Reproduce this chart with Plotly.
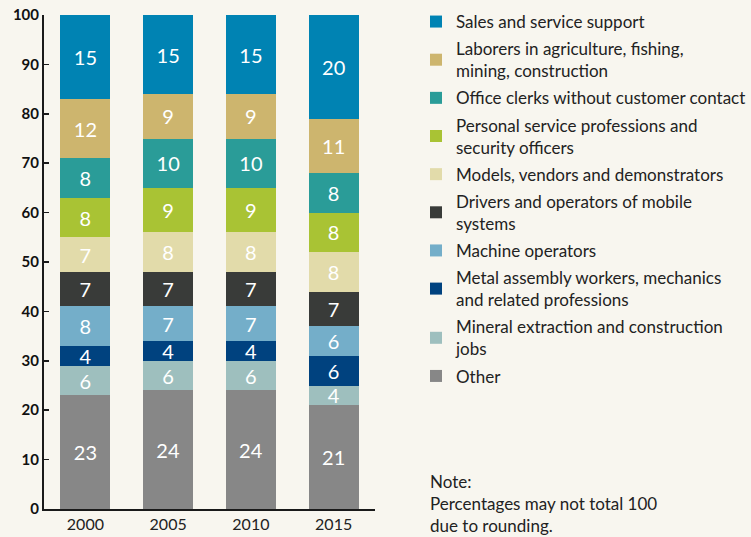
import plotly.graph_objects as go

years = ["2000", "2005", "2010", "2015"]

# values as labelled in the chart (bottom to top of the stack)
other = [23, 24, 24, 21]
mineral = [6, 6, 6, 4]
metal = [4, 4, 4, 6]
machine = [8, 7, 7, 6]
drivers = [7, 7, 7, 7]
models = [7, 8, 8, 8]
personal = [8, 9, 9, 8]
office = [8, 10, 10, 8]
laborers = [12, 9, 9, 11]
sales = [15, 15, 15, 20]

names = [
    "Other",
    "Mineral extraction and construction<br>jobs",
    "Metal assembly workers, mechanics<br>and related professions",
    "Machine operators",
    "Drivers and operators of mobile<br>systems",
    "Models, vendors and demonstrators",
    "Personal service professions and<br>security officers",
    "Office clerks without customer contact",
    "Laborers in agriculture, fishing,<br>mining, construction",
    "Sales and service support",
]
colors = ["#878787", "#9ebfbe", "#00427f", "#74aec9", "#393b39",
          "#e2dbaa", "#a9c334", "#2a9c98", "#cdb56e", "#0083b3"]

series = [other, mineral, metal, machine, drivers, models, personal, office, laborers, sales]

fig = go.Figure()
n = len(series)
for i, (name, vals, col) in enumerate(zip(names, series, colors)):
    if i == n - 1:
        # top segment fills up to 100 (percentages may not total 100 due to rounding)
        below = [sum(s[j] for s in series[:-1]) for j in range(len(years))]
        heights = [100 - b for b in below]
    else:
        heights = vals
    fig.add_trace(go.Bar(
        x=years, y=heights, name=name, legendgroup=f"g{i}", legendrank=n - i,
        text=[str(v) for v in vals],
        textposition="inside", insidetextanchor="middle",
        textangle=0, constraintext="none",
        textfont=dict(family="Lato", size=20, color="white"),
        marker=dict(color=col, line=dict(width=0)),
        hoverinfo="skip",
    ))

W, H = 751, 537
ml, mr, mt, mb = 44, 376, 15, 28
pw = W - ml - mr
ph = H - mt - mb

def px_x(p):
    return (p - ml) / pw

def px_y(p):
    return 1 - (p - mt) / ph

fig.update_layout(
    width=W, height=H,
    margin=dict(l=ml, r=mr, t=mt, b=mb, autoexpand=False),
    barmode="stack", bargap=0.396,
    paper_bgcolor="#f8f6ef", plot_bgcolor="#f8f6ef",
    font=dict(family="Lato", color="#222222"),
    showlegend=True,
    legend=dict(
        x=px_x(416), y=px_y(4), xanchor="left", yanchor="top",
        traceorder="grouped", tracegroupgap=2, maxheight=600,
        font=dict(family="Lato", size=17, color="#222222"),
        bgcolor="rgba(0,0,0,0)", borderwidth=0, itemclick=False, itemdoubleclick=False,
    ),
    xaxis=dict(
        type="category", range=[-0.5, 3.5], showline=True, linecolor="#1a1a1a",
        linewidth=2, ticks="", showgrid=False, zeroline=False,
        tickfont=dict(family="Lato", size=16, color="#222222"),
    ),
    yaxis=dict(
        range=[0, 100], tick0=0, dtick=10, showline=True, linecolor="#1a1a1a",
        linewidth=2, ticks="inside", ticklen=5, tickwidth=1.5, tickcolor="#1a1a1a",
        showgrid=False, zeroline=False,
        tickfont=dict(family="Lato", size=15, color="#111111", weight="bold"),
    ),
    annotations=[dict(
        xref="paper", yref="paper", x=px_x(428), y=px_y(469),
        xanchor="left", yanchor="top", align="left", showarrow=False,
        text="Note:<br>Percentages may not total 100<br>due to rounding.",
        font=dict(family="Lato", size=17, color="#222222"),
    )],
)

fig.write_html(
    "out.html",
    config={"displayModeBar": False, "staticPlot": True},
    post_script="document.body.style.margin='0';document.body.style.padding='0';document.body.style.overflow='hidden';",
)
